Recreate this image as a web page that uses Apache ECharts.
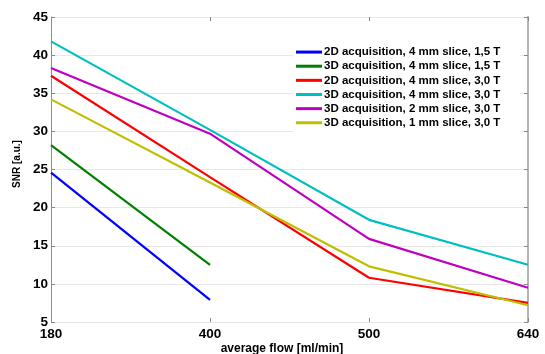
<!DOCTYPE html>
<html>
<head>
<meta charset="utf-8">
<script src="https://cdn.jsdelivr.net/npm/echarts@6/dist/echarts.min.js"></script>
<style>
html,body{margin:0;padding:0;background:#fff;}
#chart{width:545px;height:354px;}
</style>
</head>
<body>
<div id="chart"></div>
<script>
// Data
const categories = ['180', '400', '500', '640'];
const seriesNames = [
  '2D acquisition, 4 mm slice, 1,5 T',
  '3D acquisition, 4 mm slice, 1,5 T',
  '2D acquisition, 4 mm slice, 3,0 T',
  '3D acquisition, 4 mm slice, 3,0 T',
  '3D acquisition, 2 mm slice, 3,0 T',
  '3D acquisition, 1 mm slice, 3,0 T'
];
const snr2D4mm15T = [24.6, 7.9, null, null];
const snr3D4mm15T = [28.2, 12.5, null, null];
const snr2D4mm30T = [37.3, 24.0, 10.8, 7.5];
const snr3D4mm30T = [41.8, 30.2, 18.4, 12.5];
const snr3D2mm30T = [38.3, 29.7, 15.9, 9.5];
const snr3D1mm30T = [34.2, 23.3, 12.3, 7.2];
const yMin = 5, yMax = 45, yStep = 5;
const xTitle = 'average flow [ml/min]';
const yTitle = 'SNR [a.u.]';

const seriesData = [snr2D4mm15T, snr3D4mm15T, snr2D4mm30T, snr3D4mm30T, snr3D2mm30T, snr3D1mm30T];
const colors = ['#0000ff', '#008000', '#ff0000', '#00bfbf', '#bf00bf', '#bfbf00'];

const FONT = 'Liberation Sans, Arial, sans-serif';
const chart = echarts.init(document.getElementById('chart'), null, {renderer: 'canvas'});
const tickStyle = {show: true, inside: true, length: 4, lineStyle: {color: '#888', width: 1}};
const option = {
  animation: false,
  backgroundColor: '#fff',
  color: colors,
  grid: {left: 51, right: 17, top: 17, bottom: 32, containLabel: false, outerBoundsMode: 'none'},
  legend: {
    orient: 'vertical',
    left: 293,
    top: 41,
    padding: [4, 19, 4, 3],
    backgroundColor: '#fff',
    icon: 'rect',
    itemWidth: 26,
    itemHeight: 3,
    itemGap: 0,
    textStyle: {fontFamily: FONT, fontSize: 11.5, fontWeight: 'bold', color: '#000', lineHeight: 14.14, padding: [0, 0, 0, -3]},
    data: seriesNames
  },
  xAxis: [{
    type: 'category',
    boundaryGap: false,
    data: categories,
    position: 'bottom',
    axisLine: {show: false},
    axisTick: tickStyle,
    axisLabel: {margin: 5, color: '#000', fontWeight: 'bold', fontSize: 13.5, fontFamily: FONT},
    splitLine: {show: false}
  }, {
    type: 'category',
    boundaryGap: false,
    data: categories,
    position: 'top',
    axisLine: {show: false},
    axisTick: tickStyle,
    axisLabel: {show: false},
    splitLine: {show: false}
  }],
  yAxis: [{
    type: 'value',
    min: yMin, max: yMax, interval: yStep,
    position: 'left',
    axisLine: {show: true, lineStyle: {color: '#8c8c8c', width: 1}},
    axisTick: tickStyle,
    axisLabel: {margin: 3, color: '#000', fontWeight: 'bold', fontSize: 13.5, fontFamily: FONT},
    splitLine: {show: true, lineStyle: {color: '#e8e8e8', width: 1}}
  }, {
    type: 'value',
    min: yMin, max: yMax, interval: yStep,
    position: 'right',
    axisLine: {show: true, lineStyle: {color: '#b4b4b4', width: 2}},
    axisTick: tickStyle,
    axisLabel: {show: false},
    splitLine: {show: false}
  }],
  graphic: [{
    type: 'text',
    x: 17.5, y: 164,
    rotation: Math.PI / 2,
    style: {text: yTitle, fill: '#000', font: 'bold 10px Liberation Sans, Arial, sans-serif', align: 'center', verticalAlign: 'middle'}
  }, {
    type: 'text',
    x: 282, y: 348.5,
    style: {text: xTitle, fill: '#000', font: 'bold 12px Liberation Sans, Arial, sans-serif', align: 'center', verticalAlign: 'middle'}
  }],
  series: seriesData.map((d, i) => ({
    name: seriesNames[i],
    type: 'line',
    data: d,
    xAxisIndex: 0,
    yAxisIndex: 0,
    symbol: 'none',
    showSymbol: false,
    connectNulls: false,
    lineStyle: {width: 2.2, color: colors[i]},
    itemStyle: {color: colors[i]},
    z: 2 + i
  }))
};
chart.setOption(option);
</script>
</body>
</html>
